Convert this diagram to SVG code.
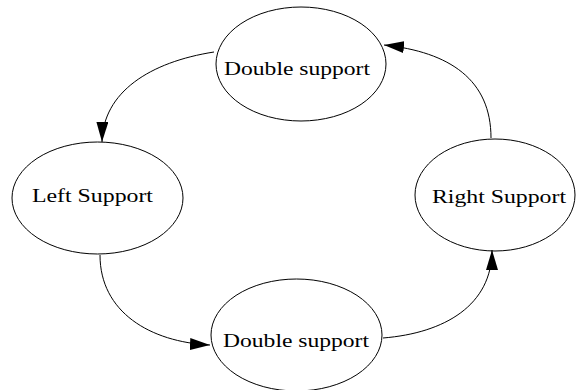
<svg xmlns="http://www.w3.org/2000/svg" width="576" height="390" viewBox="0 0 576 390">
<style>
.n ellipse{fill:none;stroke:#000;stroke-width:1}
.n text{font-family:"Liberation Serif","Times New Roman",serif;font-size:19px;fill:#000;text-anchor:middle}
.e path{fill:none;stroke:#000;stroke-width:1}
</style>
<defs>
<marker id="ah" markerUnits="userSpaceOnUse" viewBox="0 0 20 12" refX="20" refY="6" markerWidth="20" markerHeight="12" orient="auto">
<path d="M0,0 L20,6 L0,12 z" fill="#000"/>
</marker>
</defs>
<rect width="576" height="390" fill="#fff"/>
<g class="e">
<path d="M 214,52 C 150,62 103,92 102,142" marker-end="url(#ah)"/>
<path d="M 100,255 C 100,312 150,342 210,345" marker-end="url(#ah)"/>
<path d="M 383,338 C 445,333 492,305 492,250" marker-end="url(#ah)"/>
<path d="M 491,138 C 491,80 450,52 384,45" marker-end="url(#ah)"/>
</g>
<g id="top" class="n"><ellipse cx="301" cy="64" rx="85" ry="57"/><text x="297" y="75" textLength="146" lengthAdjust="spacingAndGlyphs">Double support</text></g>
<g id="left" class="n"><ellipse cx="97.5" cy="198" rx="85.5" ry="56"/><text x="92.5" y="202" textLength="121" lengthAdjust="spacingAndGlyphs">Left Support</text></g>
<g id="right" class="n"><ellipse cx="495" cy="195" rx="80" ry="56"/><text x="499" y="203" textLength="134" lengthAdjust="spacingAndGlyphs">Right Support</text></g>
<g id="bottom" class="n"><ellipse cx="296.5" cy="335" rx="85.5" ry="56"/><text x="296" y="347" textLength="146" lengthAdjust="spacingAndGlyphs">Double support</text></g>
</svg>
